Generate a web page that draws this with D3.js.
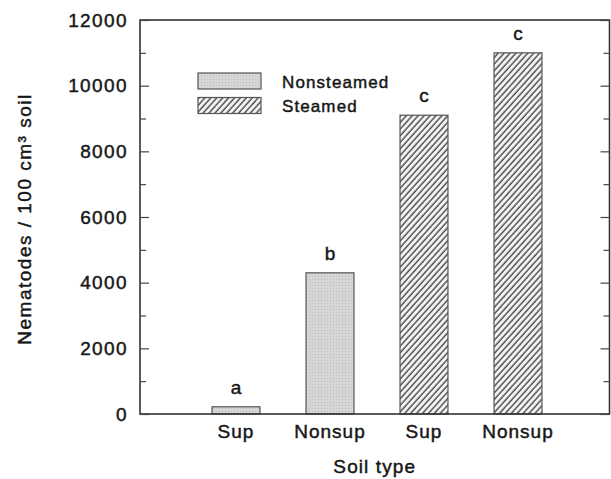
<!DOCTYPE html>
<html>
<head>
<meta charset="utf-8">
<script src="https://cdn.jsdelivr.net/npm/d3@7"></script>
<style>
body { margin: 0; background: #fff; }
text { font-family: "Liberation Sans", Arial, sans-serif; fill: #161616; stroke: #161616; stroke-width: 0.45px; }
</style>
</head>
<body>
<div class="chart"></div>
<script>
// data
const soilTypes = ['Sup', 'Nonsup', 'Sup ', 'Nonsup '];
const treatments = ['Nonsteamed', 'Nonsteamed', 'Steamed', 'Steamed'];
const nematodes = [220, 4300, 9100, 11000];
const letters = ['a', 'b', 'c', 'c'];
const yTicks = [0, 2000, 4000, 6000, 8000, 10000, 12000];
const yMinor = [1000, 3000, 5000, 7000, 9000, 11000];
const legendItems = ['Nonsteamed', 'Steamed'];

const width = 611;
const height = 479;
const plotLeft = 140, plotRight = 609.5, plotTop = 20, plotBottom = 414;

const svg = d3.select('.chart')
	.append('svg')
	.attr('width', width)
	.attr('height', height);

const defs = svg.append('defs');
const hatch = defs.append('pattern')
	.attr('id', 'hatch')
	.attr('patternUnits', 'userSpaceOnUse')
	.attr('width', 4.4)
	.attr('height', 4.4)
	.attr('patternTransform', 'rotate(42)');
hatch.append('rect').attr('width', 4.4).attr('height', 4.4).attr('fill', '#f4f4f4');
hatch.append('line')
	.attr('x1', 1).attr('y1', 0).attr('x2', 1).attr('y2', 4.4)
	.attr('stroke', '#3a3a3a').attr('stroke-width', 1.3);

const dots = defs.append('pattern')
	.attr('id', 'dots')
	.attr('patternUnits', 'userSpaceOnUse')
	.attr('width', 3)
	.attr('height', 3);
dots.append('rect').attr('width', 3).attr('height', 3).attr('fill', '#d6d6d6');
dots.append('rect').attr('width', 1).attr('height', 1).attr('fill', '#bcbcbc');

function fillFor(t) {
	return t == 'Steamed' ? 'url(#hatch)' : 'url(#dots)';
}

const y = d3.scaleLinear().domain([0, 12000]).range([plotBottom, plotTop]);
const x = d3.scaleBand().domain(soilTypes).range([189, 565]).paddingInner(0.49).paddingOuter(0.245);

// bars
svg.selectAll('.bar')
	.data(nematodes)
	.enter()
	.append('rect')
	.attr('x', function(d, i) { return x(soilTypes[i]); })
	.attr('y', function(d) { return y(d); })
	.attr('width', x.bandwidth())
	.attr('height', function(d) { return y(0) - y(d); })
	.attr('fill', function(d, i) { return fillFor(treatments[i]); })
	.attr('stroke', '#555')
	.attr('stroke-width', 1.2);

// significance letters
svg.selectAll('.letter')
	.data(nematodes)
	.enter()
	.append('text')
	.text(function(d, i) { return letters[i]; })
	.attr('x', function(d, i) { return x(soilTypes[i]) + x.bandwidth() / 2; })
	.attr('y', function(d) { return y(d) - 13; })
	.attr('text-anchor', 'middle')
	.attr('font-size', '19px');

// frame
svg.append('rect')
	.attr('x', plotLeft).attr('y', plotTop)
	.attr('width', plotRight - plotLeft).attr('height', plotBottom - plotTop)
	.attr('fill', 'none')
	.attr('stroke', '#333')
	.attr('stroke-width', 1.6);

// left axis
const yAxis = d3.axisLeft(y).tickValues(yTicks).tickSize(-9).tickPadding(12).tickFormat(d3.format('d'));
const gy = svg.append('g').attr('transform', 'translate(' + plotLeft + ',0)').call(yAxis);
gy.select('.domain').remove();
gy.selectAll('line').attr('stroke', '#444').attr('stroke-width', 1.2);
gy.selectAll('text')
	.attr('font-size', '19px')
	.attr('letter-spacing', '1.4px')
	.attr('fill', '#161616');

const gyMinor = svg.append('g').attr('transform', 'translate(' + plotLeft + ',0)')
	.call(d3.axisLeft(y).tickValues(yMinor).tickSize(-6).tickFormat(''));
gyMinor.select('.domain').remove();
gyMinor.selectAll('line').attr('stroke', '#444').attr('stroke-width', 1.2);

// right axis ticks
const gr = svg.append('g').attr('transform', 'translate(' + plotRight + ',0)')
	.call(d3.axisRight(y).tickValues(yTicks).tickSize(-9).tickFormat(''));
gr.select('.domain').remove();
gr.selectAll('line').attr('stroke', '#444').attr('stroke-width', 1.2);
const grMinor = svg.append('g').attr('transform', 'translate(' + plotRight + ',0)')
	.call(d3.axisRight(y).tickValues(yMinor).tickSize(-6).tickFormat(''));
grMinor.select('.domain').remove();
grMinor.selectAll('line').attr('stroke', '#444').attr('stroke-width', 1.2);

// x axis labels
const gx = svg.append('g').attr('transform', 'translate(0,' + plotBottom + ')')
	.call(d3.axisBottom(x).tickSize(0).tickPadding(11));
gx.select('.domain').remove();
gx.selectAll('text')
	.attr('font-size', '19px')
	.attr('letter-spacing', '1px')
	.attr('fill', '#161616');

// axis titles
svg.append('text')
	.text('Soil type')
	.attr('x', (plotLeft + plotRight) / 2)
	.attr('y', 473)
	.attr('text-anchor', 'middle')
	.attr('font-size', '19px')
	.attr('letter-spacing', '1.1px');

svg.append('text')
	.text('Nematodes / 100 cm³ soil')
	.attr('transform', 'translate(31,219) rotate(-90)')
	.attr('text-anchor', 'middle')
	.attr('font-size', '19px')
	.attr('letter-spacing', '1.5px');

// legend
const legend = svg.selectAll('.legend')
	.data(legendItems)
	.enter()
	.append('g')
	.attr('transform', function(d, i) { return 'translate(198,' + (73 + i * 24.5) + ')'; });
legend.append('rect')
	.attr('width', 63)
	.attr('height', 16)
	.attr('fill', function(d) { return fillFor(d); })
	.attr('stroke', '#555')
	.attr('stroke-width', 1.2);
legend.append('text')
	.text(function(d) { return d; })
	.attr('x', 84)
	.attr('y', 14.5)
	.attr('font-size', '17px')
	.attr('letter-spacing', '1.1px');
</script>
</body>
</html>
